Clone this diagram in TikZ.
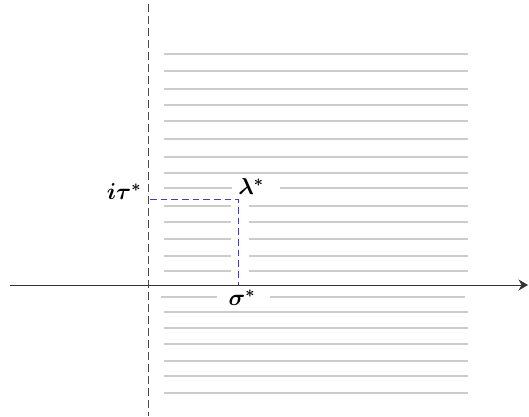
\documentclass[tikz,border=0pt]{standalone}
\usepackage{amsmath,amssymb,bm}
\usepackage{xcolor}
\usetikzlibrary{arrows.meta, positioning, calc}

\begin{document}
\begin{tikzpicture}[
  x=0.75pt, y=-0.75pt,
  >={Stealth[length=2.5mm,width=2.9mm]},
  hatch/.style={black!20, line width=1.1pt},
  realaxis/.style={->, black!80, line width=0.6pt},
  imaxis/.style={black!70, dash pattern=on 6pt off 3pt, line width=0.6pt},
  proj/.style={blue!55!black!75, dash pattern=on 5pt off 3pt, line width=0.5pt},
  lbl/.style={font=\LARGE, inner sep=1pt},
]
\useasboundingbox (0,0) rectangle (529,417);

% --- Hatched half-plane: full-width lines ---
\foreach \yy in {54,71,89,105,121,139,157,173,312,328,344,361,376,393}{
  \draw[hatch] (164,\yy) -- (468,\yy);
}
% --- Hatch lines broken by the projection ---
\draw[hatch] (164,188) -- (232,188);
\draw[hatch] (280,188) -- (468,188);
\foreach \yy in {206,222,239,256,271}{
  \draw[hatch] (164,\yy) -- (231,\yy);
  \draw[hatch] (249,\yy) -- (468,\yy);
}
\draw[hatch] (161,297) -- (217,297);
\draw[hatch] (270,297) -- (465,297);

% --- Axes ---
\coordinate (xl) at (10,285);
\coordinate (xr) at (528,285);
\coordinate (yt) at (148,4);
\coordinate (yb) at (148,416);
\draw[imaxis] (yt) -- (yb);
\draw[realaxis] (xl) -- (xr);

% --- The point and its projections ---
\coordinate (lam) at (238,199);
\coordinate (lamim) at (150,199);
\coordinate (lamre) at (238,285);
\draw[proj] (lamim) -- (lam) -- (lamre);

\node[lbl] (tau) at (124,192) {$\bm{i\tau^*}$};
\node[lbl] (lamlbl) at (251,187) {$\bm{\lambda^*}$};
\node[lbl] (sig) at (242,298) {$\bm{\sigma^*}$};

\end{tikzpicture}
\end{document}
